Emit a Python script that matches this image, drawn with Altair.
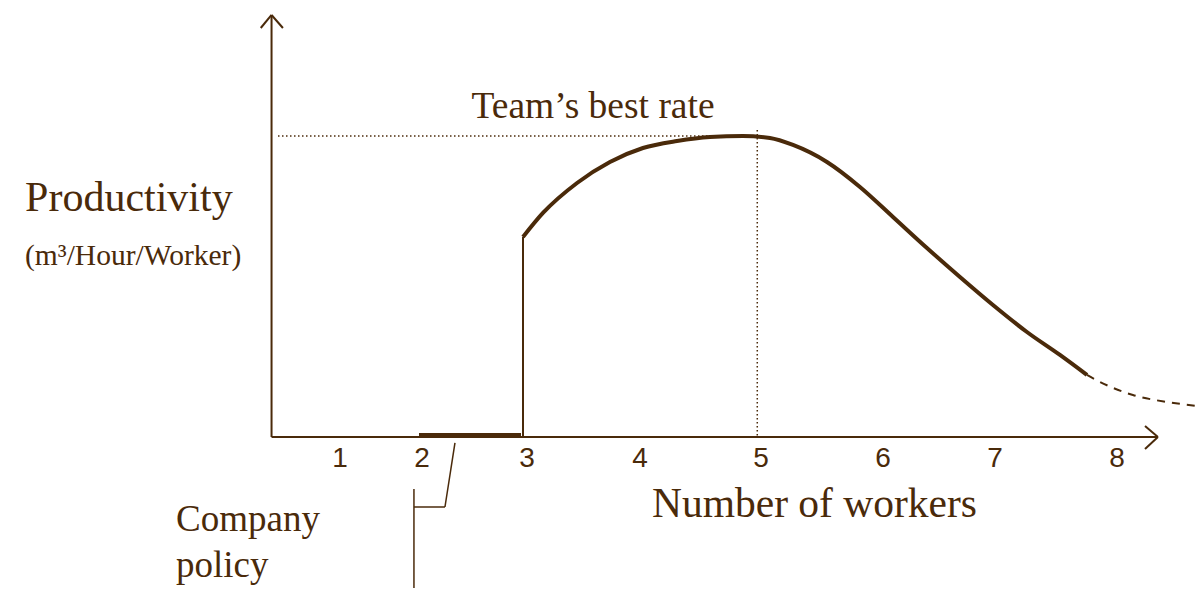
import altair as alt
import pandas as pd

COLOR = "#4a2a0a"
SERIF = "Liberation Serif"
SANS = "Liberation Sans"

# Productivity curve (workers, productivity units; best rate = 10)
curve_w = [3.0, 3.17, 3.46, 3.74, 4.021, 4.311, 4.591, 4.872, 5.102, 5.298, 5.587,
           5.868, 6.149, 6.438, 6.719, 7.0, 7.289, 7.57, 7.8]
curve_v = [6.645, 7.442, 8.439, 9.136, 9.601, 9.834, 9.967, 10.0, 9.934, 9.701, 9.136,
           8.306, 7.309, 6.279, 5.316, 4.385, 3.488, 2.724, 2.06]

# Dashed extrapolation
tail_w = [7.8, 7.911, 8.191, 8.48, 8.72]
tail_v = [2.06, 1.827, 1.395, 1.163, 1.04]

# Tick labels of the worker axis
tick_labels = ["1", "2", "3", "4", "5", "6", "7", "8"]
tick_pos = [1.443, 2.14, 3.034, 3.996, 5.026, 6.064, 7.017, 8.055]

best_rate = 10.0
best_workers = 4.994

xs = alt.Scale(domain=[-1.383, 8.728], nice=False, zero=False)
ys = alt.Scale(domain=[-5.449, 14.252], nice=False, zero=False)

# Solid segments: axes, arrowheads, step, policy bar, callout
seg = pd.DataFrame({
    "w1": [0.86, 0.768, 0.957, 0.86, 8.294, 8.294, 3.0, 2.115, 2.421, 2.336, 2.072],
    "v1": [0.0, 13.588, 13.588, 0.0, 0.365, -0.399, 0.0, 0.05, -0.199, -2.326, -1.728],
    "w2": [0.86, 0.86, 0.86, 8.404, 8.404, 8.404, 3.0, 2.983, 2.336, 2.072, 2.072],
    "v2": [14.02, 14.02, 14.02, 0.0, 0.0, 0.0, 6.645, 0.05, -2.326, -2.326, -5.017],
    "sw": [2, 2, 2, 2, 2, 2, 2, 5, 1.5, 1.5, 1.5],
})

dots = pd.DataFrame({
    "w1": [0.915, best_workers],
    "v1": [best_rate, 10.2],
    "w2": [best_workers, best_workers],
    "v2": [best_rate, 0.0],
})

curve_df = pd.DataFrame({"w": curve_w, "v": curve_v})
tail_df = pd.DataFrame({"w": tail_w, "v": tail_v})
ticks_df = pd.DataFrame({"w": tick_pos, "v": [-0.997] * len(tick_pos), "t": tick_labels})

X = lambda f: alt.X(f, scale=xs, axis=None)
Y = lambda f: alt.Y(f, scale=ys, axis=None)

segs = alt.Chart(seg).mark_rule(color=COLOR, strokeCap="butt").encode(
    x=X("w1:Q"), y=Y("v1:Q"), x2="w2:Q", y2="v2:Q",
    strokeWidth=alt.StrokeWidth("sw:Q", scale=None),
)

dotted = alt.Chart(dots).mark_rule(color=COLOR, strokeWidth=1.5, strokeDash=[1.5, 2.5]).encode(
    x=X("w1:Q"), y=Y("v1:Q"), x2="w2:Q", y2="v2:Q",
)

curve = alt.Chart(curve_df).mark_line(color=COLOR, strokeWidth=4, interpolate="monotone").encode(
    x=X("w:Q"), y=Y("v:Q"),
)

tail = alt.Chart(tail_df).mark_line(color=COLOR, strokeWidth=2, strokeDash=[8, 7],
                                    interpolate="monotone").encode(
    x=X("w:Q"), y=Y("v:Q"),
)

ticks = alt.Chart(ticks_df).mark_text(color=COLOR, font=SANS, fontSize=28, align="center",
                                      baseline="alphabetic").encode(
    x=X("w:Q"), y=Y("v:Q"), text="t:N",
)

def label(txt, w, v, size, align="left"):
    d = pd.DataFrame({"w": [w], "v": [v], "t": [txt]})
    return alt.Chart(d).mark_text(color=COLOR, font=SERIF, fontSize=size, align=align,
                                  baseline="alphabetic").encode(
        x=X("w:Q"), y=Y("v:Q"), text="t:N")

texts = [
    label("Team\u2019s best rate", 3.596, 10.598, 37.5, "center"),
    label("Productivity", -1.238, 7.508, 42),
    label("(m\u00b3/Hour/Worker)", -1.238, 5.714, 29.5),
    label("Number of workers", 4.098, -2.658, 41.5),
    label("Company", 0.047, -3.123, 37),
    label("policy", 0.047, -4.651, 37),
]

chart = alt.layer(dotted, segs, curve, tail, ticks, *texts).properties(
    width=1188, height=593, background="white", padding=0,
    autosize=alt.AutoSizeParams(type="none"),
).configure_view(stroke=None)

chart.save("out.html", embed_options={"renderer": "svg", "actions": False})
